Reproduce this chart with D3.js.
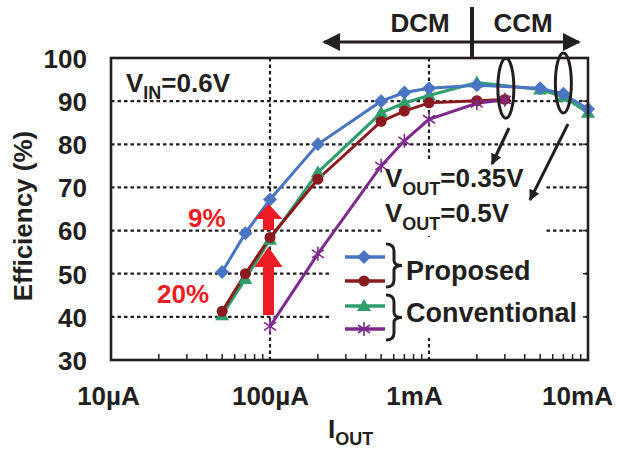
<!DOCTYPE html>
<html>
<head>
<meta charset="utf-8">
<script src="https://cdn.jsdelivr.net/npm/d3@7"></script>
<style>
  html, body { margin: 0; padding: 0; background: #fff; }
  #chart text { font-family: "Liberation Sans", Arial, sans-serif; font-weight: bold; fill: #231f20; }
  .grid line { stroke: #231f20; stroke-width: 2.2; stroke-dasharray: 3.5, 3; }
  .series { fill: none; stroke-width: 3; }
</style>
</head>
<body>
<div id="chart"></div>
<script>
  /* ── data ─────────────────────────────────────────────── */
  // output current in amps
  const iFull  = [50e-6, 70e-6, 100e-6, 200e-6, 500e-6, 700e-6, 1e-3, 2e-3, 5e-3, 7e-3, 10e-3];
  const iShort = [50e-6, 70e-6, 100e-6, 200e-6, 500e-6, 700e-6, 1e-3, 2e-3, 3e-3];
  const iConvLow = [100e-6, 200e-6, 500e-6, 700e-6, 1e-3, 2e-3, 3e-3];

  const propHigh = [50.4, 59.4, 67.2, 80.0, 90.0, 92.0, 93.0, 93.7, 93.0, 91.7, 88.2];
  const convHigh = [40.4, 48.8, 57.9, 73.5, 87.3, 89.6, 91.3, 94.3, 92.7, 91.0, 87.3];
  const propLow  = [41.3, 50.0, 58.4, 71.9, 85.3, 87.7, 89.6, 90.1, 90.4];
  const convLow  = [37.8, 54.6, 75.0, 80.8, 85.8, 89.5, 90.3];

  const xTicks = [10e-6, 100e-6, 1e-3, 10e-3];
  const xTickLabels = ["10\u00b5A", "100\u00b5A", "1mA", "10mA"];
  const yTicks = [30, 40, 50, 60, 70, 80, 90, 100];
  const legendNames = ["Proposed", "Conventional"];

  /* ── setup ────────────────────────────────────────────── */
  const W = 617, H = 450;
  const plot = { left: 111, right: 588, top: 58, bottom: 360 };
  const font = 26;

  const svg = d3.select("#chart").append("svg")
    .attr("width", W).attr("height", H);

  const x = d3.scaleLog().domain([10e-6, 10e-3]).range([plot.left, plot.right]);
  const y = d3.scaleLinear().domain([30, 100]).range([plot.bottom, plot.top]);

  const series = [
    { xs: iFull,    ys: convHigh, color: "#2f9e6a", mark: "tri" },
    { xs: iFull,    ys: propHigh, color: "#4a75c2", mark: "dia" },
    { xs: iShort,   ys: propLow,  color: "#8b1a1e", mark: "dot" },
    { xs: iConvLow, ys: convLow,  color: "#7e2a8c", mark: "ast" }
  ];

  const markPath = {
    dia: "M0,-7L7,0L0,7L-7,0Z",
    tri: "M0,-7L7,5L-7,5Z",
    ast: "M0,-7V7M-6,-4L6,4M-6,4L6,-4"
  };

  function drawMark(g, type, color) {
    if (type === "dot") {
      g.append("circle").attr("r", 5.5).attr("fill", color);
    } else if (type === "ast") {
      g.append("path").attr("d", markPath.ast).attr("stroke", color).attr("stroke-width", 1.6).attr("fill", "none");
    } else {
      g.append("path").attr("d", markPath[type]).attr("fill", color);
    }
  }

  /* ── grid ─────────────────────────────────────────────── */
  const grid = svg.append("g").attr("class", "grid");
  grid.selectAll(".h").data(yTicks.filter(v => v > 30 && v < 100)).join("line")
    .attr("x1", plot.left).attr("x2", plot.right)
    .attr("y1", d => y(d)).attr("y2", d => y(d));
  grid.selectAll(".v").data(xTicks.slice(1, 3)).join("line")
    .attr("x1", d => x(d)).attr("x2", d => x(d))
    .attr("y1", plot.top).attr("y2", plot.bottom);

  // white backing behind annotation text and legend
  svg.append("rect").attr("x", 383).attr("y", 162).attr("width", 161).attr("height", 74).attr("fill", "#fff");
  svg.append("rect").attr("x", 332).attr("y", 238).attr("width", 251).attr("height", 100).attr("fill", "#fff");

  // minor ticks along the bottom
  svg.append("g").selectAll("line")
    .data(x.ticks().filter(v => !xTicks.some(t => Math.abs(t - v) / t < 1e-6)))
    .join("line")
    .attr("x1", d => x(d)).attr("x2", d => x(d))
    .attr("y1", plot.bottom).attr("y2", plot.bottom - 6)
    .attr("stroke", "#231f20").attr("stroke-width", 1.5);
  // right-side ticks
  svg.append("g").selectAll("line").data(yTicks.slice(1, -1)).join("line")
    .attr("x1", plot.right).attr("x2", plot.right - 5)
    .attr("y1", d => y(d)).attr("y2", d => y(d))
    .attr("stroke", "#231f20").attr("stroke-width", 1.5);

  /* ── series ───────────────────────────────────────────── */
  const line = d3.line().x(d => x(d[0])).y(d => y(d[1]));
  series.forEach(s => {
    const pts = s.xs.map((v, i) => [v, s.ys[i]]);
    svg.append("path").datum(pts).attr("class", "series")
      .attr("stroke", s.color).attr("d", line);
  });
  series.forEach(s => {
    s.xs.forEach((v, i) => {
      const g = svg.append("g").attr("transform", `translate(${x(v)},${y(s.ys[i])})`);
      drawMark(g, s.mark, s.color);
    });
  });

  /* ── frame & axes ─────────────────────────────────────── */
  svg.append("rect")
    .attr("x", plot.left).attr("y", plot.top)
    .attr("width", plot.right - plot.left).attr("height", plot.bottom - plot.top)
    .attr("fill", "none").attr("stroke", "#231f20").attr("stroke-width", 2.6);

  svg.append("g")
    .attr("transform", `translate(${plot.left},0)`)
    .call(d3.axisLeft(y).tickValues(yTicks).tickSize(0).tickPadding(24))
    .call(g => g.select(".domain").remove())
    .selectAll("text").attr("font-size", font).attr("dy", "0.36em");

  const xLabelShift = [-3, 0, -15, -11];
  svg.append("g")
    .attr("transform", `translate(0,${plot.bottom})`)
    .call(d3.axisBottom(x).tickValues(xTicks).tickSize(0).tickPadding(27)
      .tickFormat((d, i) => xTickLabels[i]))
    .call(g => g.select(".domain").remove())
    .selectAll("text").attr("font-size", font).attr("dx", (d, i) => xLabelShift[i]);

  svg.append("text")
    .attr("transform", "translate(32,216) rotate(-90)")
    .attr("text-anchor", "middle").attr("font-size", font)
    .text("Efficiency (%)");

  const xt = svg.append("text").attr("x", 328).attr("y", 438).attr("font-size", font);
  xt.append("tspan").text("I");
  xt.append("tspan").attr("font-size", 18).attr("dy", 7).text("OUT");

  /* ── annotations ─────────────────────────────────────── */
  const vin = svg.append("text").attr("x", 126).attr("y", 92).attr("font-size", font);
  vin.append("tspan").text("V");
  vin.append("tspan").attr("font-size", 18).attr("dy", 7).text("IN");
  vin.append("tspan").attr("dy", -7).text("=0.6V");

  [["0.35V", 187], ["0.5V", 222]].forEach(([v, by]) => {
    const t = svg.append("text").attr("x", 385).attr("y", by).attr("font-size", font);
    t.append("tspan").text("V");
    t.append("tspan").attr("font-size", 18).attr("dy", 8).text("OUT");
    t.append("tspan").attr("dy", -8).text("=" + v);
  });

  const defs = svg.append("defs");
  defs.append("marker").attr("id", "ah").attr("markerUnits", "userSpaceOnUse")
    .attr("viewBox", "0 0 10 10").attr("refX", 9).attr("refY", 5)
    .attr("markerWidth", 12).attr("markerHeight", 11).attr("orient", "auto")
    .append("path").attr("d", "M0,0L10,5L0,10Z").attr("fill", "#231f20");
  defs.append("marker").attr("id", "ahBig").attr("markerUnits", "userSpaceOnUse")
    .attr("viewBox", "0 0 10 10").attr("refX", 9).attr("refY", 5)
    .attr("markerWidth", 18).attr("markerHeight", 18).attr("orient", "auto-start-reverse")
    .append("path").attr("d", "M0,0L10,5L0,10Z").attr("fill", "#231f20");

  // loops around the VOUT groups
  const loops = [
    { cx: x(3e-3) + 1, cy: y(93), tail: [[509, 128], [492, 164]] },
    { cx: x(7e-3),     cy: y(94.2), tail: [[568, 124], [530, 200]] }
  ];
  loops.forEach(l => {
    svg.append("ellipse").attr("cx", l.cx).attr("cy", l.cy).attr("rx", 8).attr("ry", 30)
      .attr("fill", "none").attr("stroke", "#231f20").attr("stroke-width", 3);
    svg.append("line")
      .attr("x1", l.tail[0][0]).attr("y1", l.tail[0][1])
      .attr("x2", l.tail[1][0]).attr("y2", l.tail[1][1])
      .attr("stroke", "#231f20").attr("stroke-width", 3).attr("marker-end", "url(#ah)");
  });

  // DCM / CCM
  svg.append("line").attr("x1", 324).attr("x2", 579).attr("y1", 42).attr("y2", 42)
    .attr("stroke", "#231f20").attr("stroke-width", 3)
    .attr("marker-start", "url(#ahBig)").attr("marker-end", "url(#ahBig)");
  svg.append("line").attr("x1", 472).attr("x2", 472).attr("y1", 7).attr("y2", 58)
    .attr("stroke", "#231f20").attr("stroke-width", 4);
  svg.append("text").attr("x", 420).attr("y", 32).attr("text-anchor", "middle").attr("font-size", 26).text("DCM");
  svg.append("text").attr("x", 523).attr("y", 32).attr("text-anchor", "middle").attr("font-size", 26).text("CCM");

  // red improvement arrows
  const ax = x(100e-6) - 1.5;
  [[315, 267, 247], [230, 219, 204]].forEach(([b, hb, tip]) => {
    svg.append("path")
      .attr("d", `M${ax - 5.5},${b}V${hb}H${ax - 14}L${ax},${tip}L${ax + 14},${hb}H${ax + 5.5}V${b}Z`)
      .attr("fill", "#ed1c24");
  });
  svg.append("text").attr("x", 188).attr("y", 227).attr("font-size", font).style("fill", "#ed1c24").text("9%");
  svg.append("text").attr("x", 157).attr("y", 303).attr("font-size", font).style("fill", "#ed1c24").text("20%");

  /* ── legend ───────────────────────────────────────────── */
  const legRows = [series[1], series[2], series[0], series[3]];
  const legY = [257, 281, 306, 329];
  legRows.forEach((s, i) => {
    svg.append("line").attr("x1", 345).attr("x2", 385).attr("y1", legY[i]).attr("y2", legY[i])
      .attr("stroke", s.color).attr("stroke-width", 3.5);
    const g = svg.append("g").attr("transform", `translate(364,${legY[i]})`);
    drawMark(g, s.mark, s.color);
  });
  const brace = (top, bot) => {
    const m = (top + bot) / 2;
    return `M386,${top}Q394,${top} 394,${top + 7}V${m - 5}Q394,${m} 402,${m}` +
           `Q394,${m} 394,${m + 5}V${bot - 7}Q394,${bot} 386,${bot}`;
  };
  [[244, 287], [295, 340]].forEach(([t, b]) => {
    svg.append("path").attr("d", brace(t, b)).attr("fill", "none")
      .attr("stroke", "#231f20").attr("stroke-width", 3);
  });
  svg.append("text").attr("x", 406).attr("y", 280).attr("font-size", 27).text(legendNames[0]);
  svg.append("text").attr("x", 406).attr("y", 322).attr("font-size", 27).text(legendNames[1]);
</script>
</body>
</html>
